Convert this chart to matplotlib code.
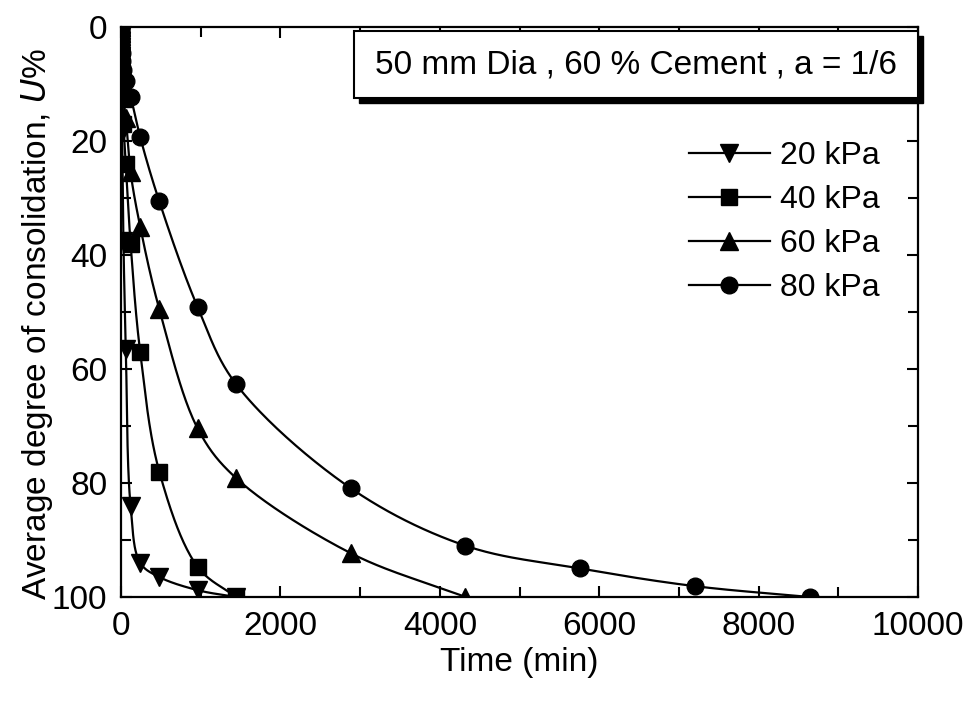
import numpy as np
import matplotlib
matplotlib.use('Agg')
import matplotlib.pyplot as plt
from matplotlib.patches import Rectangle
from matplotlib.ticker import MultipleLocator

plt.rcParams['font.family'] = ['Liberation Sans', 'DejaVu Sans']

# time (min) and average degree of consolidation U (%)
t_20 = [0, 0.25, 0.5, 1, 2, 4, 8, 15, 30, 60, 120, 240, 480, 960, 1440]
u_20 = [0, 1.5, 2.5, 3.5, 5, 7, 11, 18.5, 37.5, 56.5, 84, 94, 96.5, 98.8, 100]

t_40 = [0, 0.25, 0.5, 1, 2, 4, 8, 15, 30, 60, 120, 240, 480, 960, 1440]
u_40 = [0, 1, 2, 3, 4, 5.5, 8, 11.5, 17, 24, 38, 57, 78, 94.7, 100]

t_60 = [0, 0.25, 0.5, 1, 2, 4, 8, 15, 30, 60, 120, 240, 480, 960, 1440, 2880, 4320]
u_60 = [0, 1, 1.5, 2.5, 3.5, 5, 7, 9.5, 12.5, 16, 25.5, 35, 49.5, 70.4, 79.1, 92.3, 100]

t_80 = [0, 0.25, 0.5, 1, 2, 4, 8, 15, 30, 60, 120, 240, 480, 960, 1440, 2880, 4320,
        5760, 7200, 8640]
u_80 = [0, 0.5, 1, 1.5, 2.5, 3.5, 4.5, 6, 7.5, 9.5, 12.2, 19.3, 30.6, 49.1, 62.6, 80.9,
        91, 95, 98.1, 100]

labels = ['20 kPa', '40 kPa', '60 kPa', '80 kPa']
markers = ['v', 's', '^', 'o']
sizes = [13, 11, 13, 12]


def smooth(t, u, n=40):
    # centripetal catmull-rom through the points, worked out in screen-like units
    sx, sy = 797 / 10000, 570 / 100
    P = np.column_stack([np.asarray(t, float) * sx, np.asarray(u, float) * sy])
    P = np.vstack([2 * P[0] - P[1], P, 2 * P[-1] - P[-2]])
    xs, ys = [], []
    for i in range(1, len(P) - 2):
        p0, p1, p2, p3 = P[i - 1], P[i], P[i + 1], P[i + 2]
        k0 = 0.0
        k1 = k0 + max(np.hypot(*(p1 - p0)), 1e-6) ** 0.5
        k2 = k1 + max(np.hypot(*(p2 - p1)), 1e-6) ** 0.5
        k3 = k2 + max(np.hypot(*(p3 - p2)), 1e-6) ** 0.5
        k = np.linspace(k1, k2, n)[:, None]
        a1 = (k1 - k) / (k1 - k0) * p0 + (k - k0) / (k1 - k0) * p1
        a2 = (k2 - k) / (k2 - k1) * p1 + (k - k1) / (k2 - k1) * p2
        a3 = (k3 - k) / (k3 - k2) * p2 + (k - k2) / (k3 - k2) * p3
        b1 = (k2 - k) / (k2 - k0) * a1 + (k - k0) / (k2 - k0) * a2
        b2 = (k3 - k) / (k3 - k1) * a2 + (k - k1) / (k3 - k1) * a3
        c = (k2 - k) / (k2 - k1) * b1 + (k - k1) / (k2 - k1) * b2
        xs.extend(c[:, 0] / sx)
        ys.extend(c[:, 1] / sy)
    return np.array(xs), np.array(ys)


fig = plt.figure(figsize=(9.66, 7.04), dpi=100)
ax = fig.add_axes([0.1253, 0.152, 0.8252, 0.8096])

series = [(t_20, u_20), (t_40, u_40), (t_60, u_60), (t_80, u_80)]
for (t, u), lab, m, ms in zip(series, labels, markers, sizes):
    xs, ys = smooth(t, u)
    ax.plot(xs, ys, color='black', lw=1.6, zorder=2)
    ax.plot(t, u, ls='none', marker=m, ms=ms, color='black', zorder=3)
    ax.plot([], [], color='black', lw=1.6, marker=m, ms=ms, label=lab)

ax.set_xlim(0, 10000)
ax.set_ylim(100, 0)
ax.xaxis.set_major_locator(MultipleLocator(2000))
ax.xaxis.set_minor_locator(MultipleLocator(1000))
ax.yaxis.set_major_locator(MultipleLocator(20))
ax.yaxis.set_minor_locator(MultipleLocator(10))
ax.tick_params(which='both', direction='in', top=True, right=True,
               width=1.5, labelsize=24, pad=10)
ax.tick_params(which='major', length=8)
ax.tick_params(which='minor', length=7)
for s in ax.spines.values():
    s.set_linewidth(1.6)

ax.set_xlabel('Time (min)', fontsize=24, labelpad=4)
ax.set_ylabel('Average degree of consolidation, $\\mathit{U}$%', fontsize=24)
ax.yaxis.set_label_coords(-0.083, 0.48)

# caption box with a drop shadow
bx, by, bw, bh = 0.292, 0.875, 0.708, 0.118
ax.add_patch(Rectangle((bx + 0.006, by - 0.009), bw, bh, transform=ax.transAxes,
                       facecolor='black', edgecolor='black', clip_on=False, zorder=5))
ax.add_patch(Rectangle((bx, by), bw, bh, transform=ax.transAxes,
                       facecolor='white', edgecolor='black', lw=1.5, clip_on=False, zorder=6))
ax.text(bx + bw / 2, by + bh / 2, '50 mm Dia , 60 % Cement , a = 1/6',
        transform=ax.transAxes, ha='center', va='center', fontsize=24, zorder=7)

ax.legend(loc='upper left', bbox_to_anchor=(0.696, 0.822), frameon=False, fontsize=23,
          handlelength=2.55, handletextpad=0.3, labelspacing=0.44, borderaxespad=0)

fig.savefig('out.png', dpi=100)
